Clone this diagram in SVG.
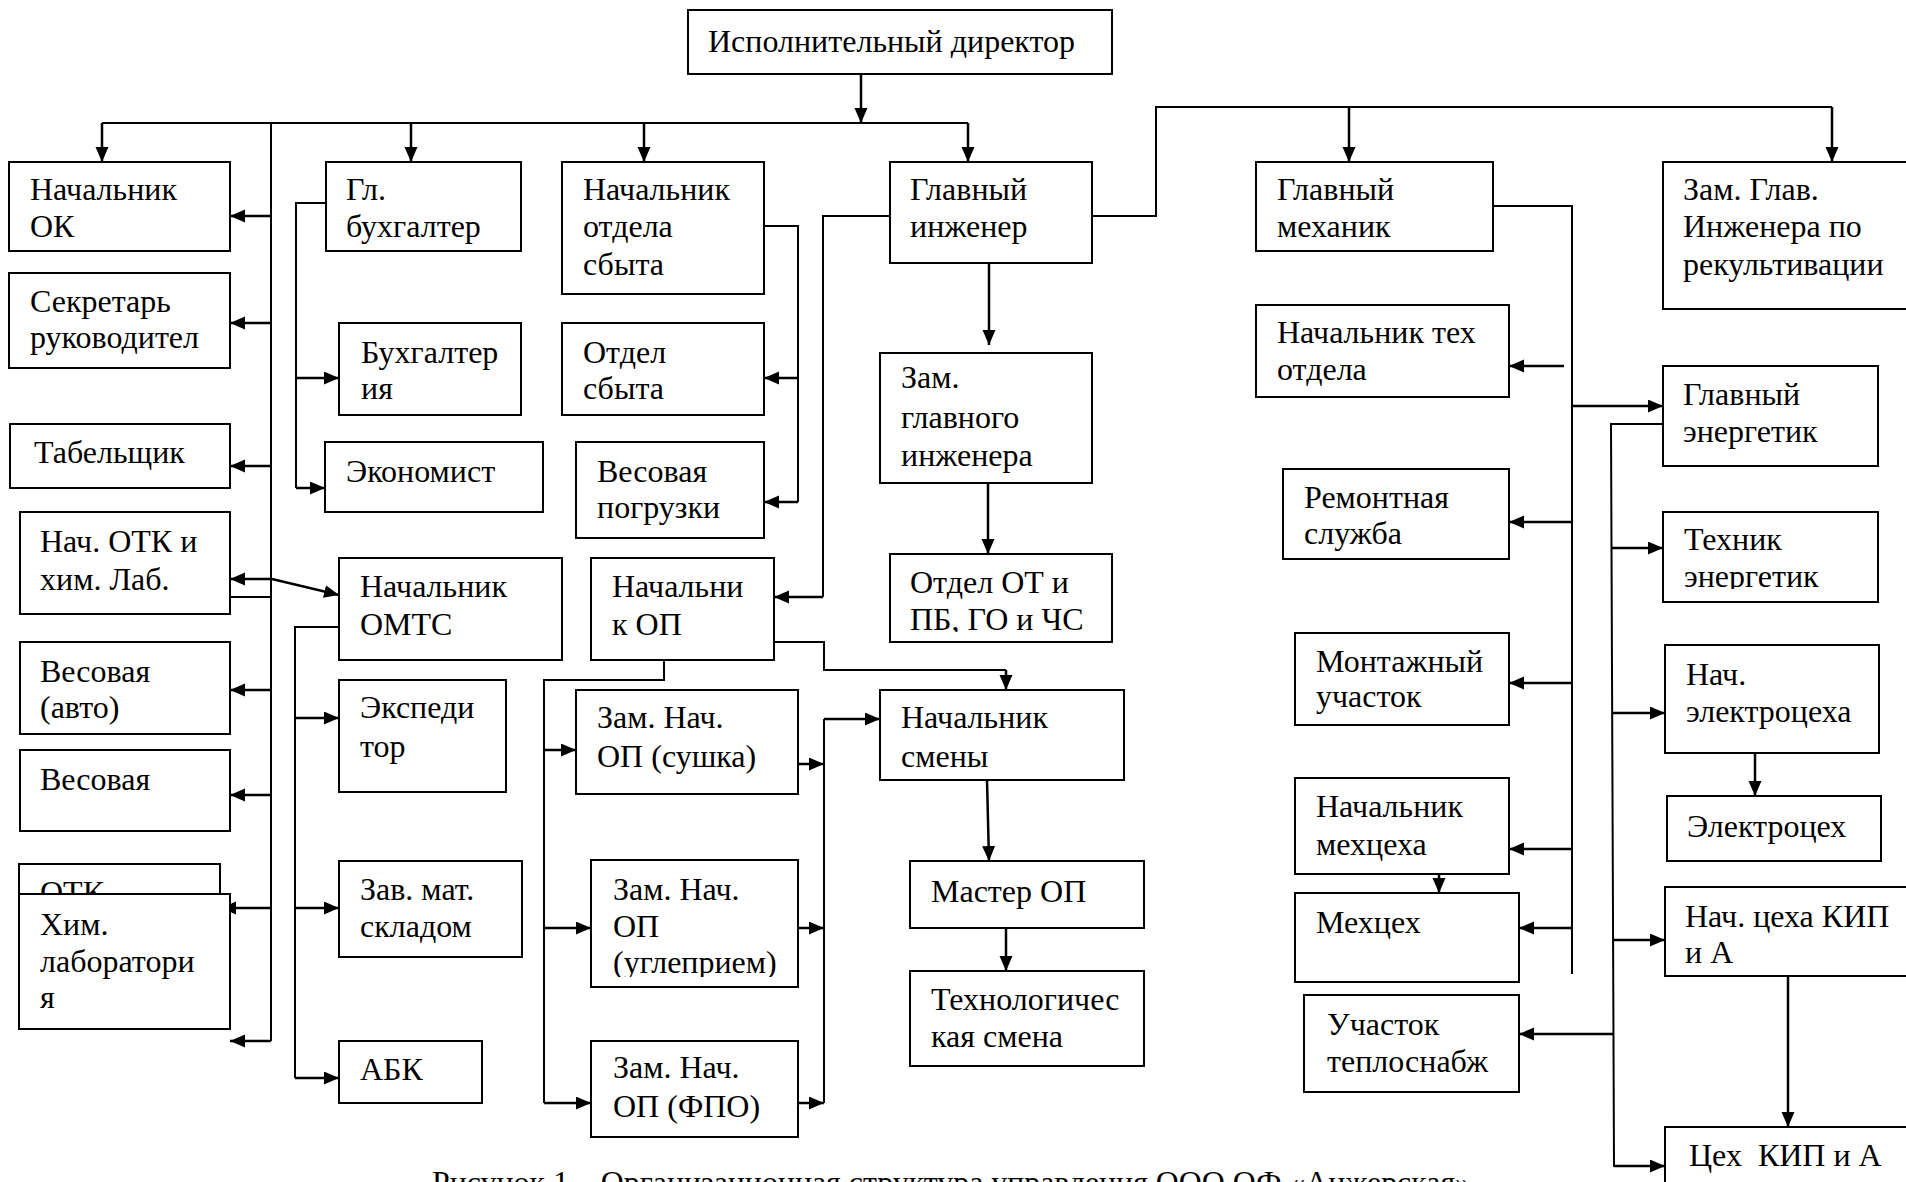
<svg xmlns="http://www.w3.org/2000/svg" width="1906" height="1182" viewBox="0 0 1906 1182">
<style>
.bx{fill:#fff;stroke:#000;stroke-width:2}
.t{font-family:"Liberation Serif","Times New Roman",serif;font-size:32px;fill:#000}
.ln{fill:none;stroke:#000;stroke-width:2}
.ar{fill:none;stroke:#000;stroke-width:2.5;marker-end:url(#ah)}
</style>
<defs>
<marker id="ah" markerUnits="userSpaceOnUse" markerWidth="16" markerHeight="14" refX="15" refY="6.5" orient="auto"><path d="M0,0 L15,6.5 L0,13 z" fill="#000"/></marker>
<clipPath id="c1"><rect x="1600" y="500" width="300" height="89"/></clipPath>
<clipPath id="c2"><rect x="880" y="540" width="240" height="92"/></clipPath>
<clipPath id="c3"><rect x="580" y="850" width="230" height="127"/></clipPath>
<clipPath id="c4"><rect x="20" y="865" width="199" height="28"/></clipPath>
</defs>
<rect width="1906" height="1182" fill="#fff"/>

<g id="connectors">
<path class="ar" d="M861,74 V123"/>
<path class="ln" d="M102,123 H968"/>
<path class="ar" d="M102,123 V162"/>
<path class="ar" d="M411,123 V162"/>
<path class="ar" d="M644,123 V162"/>
<path class="ar" d="M968,123 V162"/>
<path class="ln" d="M271,123 V1041"/>
<path class="ar" d="M271,216 H230"/>
<path class="ar" d="M271,323 H230"/>
<path class="ar" d="M271,466 H230"/>
<path class="ar" d="M271,579 H230"/>
<path class="ar" d="M271,690 H230"/>
<path class="ar" d="M271,795 H230"/>
<path class="ar" d="M271,908 H221"/>
<path class="ar" d="M271,1041 H230"/>
<path class="ar" d="M272,579 L339,595"/>
<path class="ln" d="M230,597 H272"/>
<path class="ln" d="M326,203 H296 V488"/>
<path class="ar" d="M296,378 H339"/>
<path class="ar" d="M296,488 H325"/>
<path class="ln" d="M339,627 H295 V1078"/>
<path class="ar" d="M295,718 H339"/>
<path class="ar" d="M295,908 H339"/>
<path class="ar" d="M295,1078 H339"/>
<path class="ln" d="M764,226 H798 V502"/>
<path class="ar" d="M798,378 H764"/>
<path class="ar" d="M798,502 H764"/>
<path class="ln" d="M890,216 H823 V597"/>
<path class="ar" d="M823,597 H774"/>
<path class="ln" d="M1092,216 H1156 V107 H1832"/>
<path class="ar" d="M1832,107 V162"/>
<path class="ar" d="M1349,107 V162"/>
<path class="ar" d="M989,263 V345"/>
<path class="ar" d="M988,483 V554"/>
<path class="ln" d="M664,660 V680 H544 V1103"/>
<path class="ar" d="M544,750 H576"/>
<path class="ar" d="M544,928 H591"/>
<path class="ar" d="M544,1103 H591"/>
<path class="ln" d="M774,642 H824 V670 H1006"/>
<path class="ar" d="M1006,670 V690"/>
<path class="ln" d="M824,719 V1103"/>
<path class="ar" d="M824,719 H880"/>
<path class="ar" d="M798,764 H824"/>
<path class="ar" d="M798,928 H824"/>
<path class="ar" d="M798,1103 H824"/>
<path class="ar" d="M987,780 L989,861"/>
<path class="ar" d="M1006,928 V971"/>
<path class="ln" d="M1493,206 H1572 V974"/>
<path class="ar" d="M1564,366 H1509"/>
<path class="ar" d="M1572,406 H1663"/>
<path class="ar" d="M1572,522 H1509"/>
<path class="ar" d="M1572,683 H1509"/>
<path class="ar" d="M1572,849 H1509"/>
<path class="ar" d="M1572,928 H1519"/>
<path class="ln" d="M1663,424 H1611 L1614,1167"/>
<path class="ar" d="M1611,548 H1663"/>
<path class="ar" d="M1612,713 H1665"/>
<path class="ar" d="M1613,940 H1665"/>
<path class="ar" d="M1614,1034 H1519"/>
<path class="ar" d="M1614,1166 H1665"/>
<path class="ar" d="M1755,753 V796"/>
<path class="ar" d="M1788,976 V1127"/>
<path class="ar" d="M1439,864 V893"/>
</g>

<g id="n-director"><rect class="bx" x="688" y="10" width="424" height="64"/><text class="t" x="708" y="52">Исполнительный директор</text></g>

<g id="n-ok"><rect class="bx" x="9" y="162" width="221" height="89"/><text class="t"><tspan x="30" y="200">Начальник</tspan><tspan x="30" y="237">ОК</tspan></text></g>
<g id="n-secr"><rect class="bx" x="9" y="273" width="221" height="95"/><text class="t"><tspan x="30" y="312">Секретарь</tspan><tspan x="30" y="348">руководител</tspan></text></g>
<g id="n-tab"><rect class="bx" x="10" y="424" width="220" height="64"/><text class="t" x="34" y="463">Табельщик</text></g>
<g id="n-otk-nach"><rect class="bx" x="20" y="512" width="210" height="102"/><text class="t"><tspan x="40" y="552">Нач. ОТК и</tspan><tspan x="40" y="590">хим. Лаб.</tspan></text></g>
<g id="n-ves-avto"><rect class="bx" x="20" y="642" width="210" height="92"/><text class="t"><tspan x="40" y="682">Весовая</tspan><tspan x="40" y="718">(авто)</tspan></text></g>
<g id="n-ves"><rect class="bx" x="20" y="750" width="210" height="81"/><text class="t" x="40" y="790">Весовая</text></g>
<g id="n-otk"><rect class="bx" x="19" y="864" width="201" height="80"/><text class="t" x="40" y="903" clip-path="url(#c4)">ОТК</text></g>
<g id="n-himlab"><rect class="bx" x="19" y="894" width="211" height="135"/><text class="t"><tspan x="40" y="935">Хим.</tspan><tspan x="40" y="972">лаборатори</tspan><tspan x="40" y="1008">я</tspan></text></g>

<g id="n-glbuh"><rect class="bx" x="326" y="162" width="195" height="89"/><text class="t"><tspan x="346" y="200">Гл.</tspan><tspan x="346" y="237">бухгалтер</tspan></text></g>
<g id="n-buh"><rect class="bx" x="339" y="323" width="182" height="92"/><text class="t"><tspan x="361" y="363">Бухгалтер</tspan><tspan x="361" y="399">ия</tspan></text></g>
<g id="n-econ"><rect class="bx" x="325" y="442" width="218" height="70"/><text class="t" x="346" y="482">Экономист</text></g>
<g id="n-omts"><rect class="bx" x="339" y="558" width="223" height="102"/><text class="t"><tspan x="360" y="597">Начальник</tspan><tspan x="360" y="635">ОМТС</tspan></text></g>
<g id="n-exped"><rect class="bx" x="339" y="680" width="167" height="112"/><text class="t"><tspan x="360" y="718">Экспеди</tspan><tspan x="360" y="757">тор</tspan></text></g>
<g id="n-sklad"><rect class="bx" x="339" y="861" width="183" height="96"/><text class="t"><tspan x="360" y="900">Зав. мат.</tspan><tspan x="360" y="937">складом</tspan></text></g>
<g id="n-abk"><rect class="bx" x="339" y="1041" width="143" height="62"/><text class="t" x="360" y="1080">АБК</text></g>

<g id="n-sbyt-nach"><rect class="bx" x="562" y="162" width="202" height="132"/><text class="t"><tspan x="583" y="200">Начальник</tspan><tspan x="583" y="237">отдела</tspan><tspan x="583" y="275">сбыта</tspan></text></g>
<g id="n-sbyt"><rect class="bx" x="562" y="323" width="202" height="92"/><text class="t"><tspan x="583" y="363">Отдел</tspan><tspan x="583" y="399">сбыта</tspan></text></g>
<g id="n-ves-pogr"><rect class="bx" x="576" y="442" width="188" height="96"/><text class="t"><tspan x="597" y="482">Весовая</tspan><tspan x="597" y="518">погрузки</tspan></text></g>
<g id="n-op"><rect class="bx" x="591" y="558" width="183" height="102"/><text class="t"><tspan x="612" y="597">Начальни</tspan><tspan x="612" y="635">к ОП</tspan></text></g>
<g id="n-op-sush"><rect class="bx" x="576" y="690" width="222" height="104"/><text class="t"><tspan x="597" y="728">Зам. Нач.</tspan><tspan x="597" y="767">ОП (сушка)</tspan></text></g>
<g id="n-op-ugl"><rect class="bx" x="591" y="860" width="207" height="127"/><text class="t" clip-path="url(#c3)"><tspan x="613" y="900">Зам. Нач.</tspan><tspan x="613" y="937">ОП</tspan><tspan x="613" y="973">(углеприем)</tspan></text></g>
<g id="n-op-fpo"><rect class="bx" x="591" y="1041" width="207" height="96"/><text class="t"><tspan x="613" y="1078">Зам. Нач.</tspan><tspan x="613" y="1117">ОП (ФПО)</tspan></text></g>

<g id="n-glinzh"><rect class="bx" x="890" y="162" width="202" height="101"/><text class="t"><tspan x="910" y="200">Главный</tspan><tspan x="910" y="237">инженер</tspan></text></g>
<g id="n-zam-glinzh"><rect class="bx" x="880" y="353" width="212" height="130"/><text class="t"><tspan x="901" y="388">Зам.</tspan><tspan x="901" y="428">главного</tspan><tspan x="901" y="466">инженера</tspan></text></g>
<g id="n-ot"><rect class="bx" x="890" y="554" width="222" height="88"/><text class="t" clip-path="url(#c2)"><tspan x="910" y="593">Отдел ОТ и</tspan><tspan x="910" y="630">ПБ, ГО и ЧС</tspan></text></g>
<g id="n-smena"><rect class="bx" x="880" y="690" width="244" height="90"/><text class="t"><tspan x="901" y="728">Начальник</tspan><tspan x="901" y="767">смены</tspan></text></g>
<g id="n-master"><rect class="bx" x="910" y="861" width="234" height="67"/><text class="t" x="931" y="902">Мастер ОП</text></g>
<g id="n-tehsm"><rect class="bx" x="910" y="971" width="234" height="95"/><text class="t"><tspan x="931" y="1010">Технологичес</tspan><tspan x="931" y="1047">кая смена</tspan></text></g>

<g id="n-glmeh"><rect class="bx" x="1256" y="162" width="237" height="89"/><text class="t"><tspan x="1277" y="200">Главный</tspan><tspan x="1277" y="237">механик</tspan></text></g>
<g id="n-tehotd"><rect class="bx" x="1256" y="305" width="253" height="92"/><text class="t"><tspan x="1277" y="343">Начальник тех</tspan><tspan x="1277" y="380">отдела</tspan></text></g>
<g id="n-remont"><rect class="bx" x="1283" y="469" width="226" height="90"/><text class="t"><tspan x="1304" y="508">Ремонтная</tspan><tspan x="1304" y="544">служба</tspan></text></g>
<g id="n-montazh"><rect class="bx" x="1295" y="633" width="214" height="92"/><text class="t"><tspan x="1316" y="672">Монтажный</tspan><tspan x="1316" y="707">участок</tspan></text></g>
<g id="n-mehceh-nach"><rect class="bx" x="1295" y="778" width="214" height="96"/><text class="t"><tspan x="1316" y="817">Начальник</tspan><tspan x="1316" y="855">мехцеха</tspan></text></g>
<g id="n-mehceh"><rect class="bx" x="1295" y="893" width="224" height="89"/><text class="t" x="1316" y="933">Мехцех</text></g>
<g id="n-teplo"><rect class="bx" x="1304" y="995" width="215" height="97"/><text class="t"><tspan x="1327" y="1035">Участок</tspan><tspan x="1327" y="1072">теплоснабж</tspan></text></g>

<g id="n-zam-rekult"><rect class="bx" x="1663" y="162" width="260" height="147"/><text class="t"><tspan x="1683" y="200">Зам. Глав.</tspan><tspan x="1683" y="237">Инженера по</tspan><tspan x="1683" y="275">рекультивации</tspan></text></g>
<g id="n-glenerg"><rect class="bx" x="1663" y="366" width="215" height="100"/><text class="t"><tspan x="1683" y="405">Главный</tspan><tspan x="1683" y="442">энергетик</tspan></text></g>
<g id="n-tehenerg"><rect class="bx" x="1663" y="512" width="215" height="90"/><text class="t" clip-path="url(#c1)"><tspan x="1684" y="550">Техник</tspan><tspan x="1684" y="587">энергетик</tspan></text></g>
<g id="n-elceh-nach"><rect class="bx" x="1665" y="645" width="214" height="108"/><text class="t"><tspan x="1686" y="685">Нач.</tspan><tspan x="1686" y="722">электроцеха</tspan></text></g>
<g id="n-elceh"><rect class="bx" x="1667" y="796" width="214" height="65"/><text class="t" x="1687" y="837">Электроцех</text></g>
<g id="n-kip-nach"><rect class="bx" x="1665" y="887" width="260" height="89"/><text class="t"><tspan x="1685" y="927">Нач. цеха КИП</tspan><tspan x="1685" y="963">и А</tspan></text></g>
<g id="n-kip"><rect class="bx" x="1665" y="1127" width="260" height="80"/><text class="t" x="1689" y="1166" xml:space="preserve">Цех  КИП и А</text></g>

<text class="t" x="432" y="1193" textLength="1039" lengthAdjust="spacingAndGlyphs">Рисунок 1 – Организационная структура управления ООО ОФ «Анжерская»</text>
</svg>
